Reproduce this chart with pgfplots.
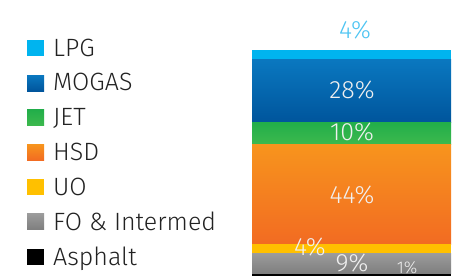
\documentclass[border=0pt]{standalone}
\usepackage{pgfplots}
\pgfplotsset{compat=1.18}
\usepackage{fontspec}
\setmainfont{Fira Sans}[UprightFont=* Light]
\definecolor{lpg}{HTML}{00B4EF}
\definecolor{mogasT}{HTML}{0A78C0}
\definecolor{mogasB}{HTML}{00559C}
\definecolor{jetT}{HTML}{22AE4A}
\definecolor{jetB}{HTML}{3DB94D}
\definecolor{hsdT}{HTML}{F7941D}
\definecolor{hsdB}{HTML}{F26B22}
\definecolor{uo}{HTML}{FFC000}
\definecolor{foT}{HTML}{9B9B9B}
\definecolor{foB}{HTML}{7E7E7E}
\definecolor{lpglab}{HTML}{4DC4F2}
\definecolor{labtext}{HTML}{F0F0F0}
\definecolor{legtext}{HTML}{222222}
\tikzset{lab/.style={font=\fontsize{25}{28}\selectfont, text=labtext}}
\begin{document}
\begin{tikzpicture}
\useasboundingbox (0,0) rectangle (454pt,278pt);
\begin{axis}[
  at={(252pt,2pt)}, anchor=south west,
  scale only axis, width=199pt, height=226pt,
  xmin=0, xmax=1, ymin=0, ymax=100,
  hide axis, clip=false,
  ybar stacked, bar width=199pt,
  reverse legend,
  legend cell align=left,
  legend style={at={(-1.1307,1.085)}, anchor=north west, draw=none, fill=none,
    inner sep=0pt, column sep=9pt, font=\fontsize{25}{28}\selectfont, text=legtext,
    nodes={inner sep=0pt, minimum height=34.7pt}},
  legend image code/.code={\path[#1,draw=none] (0pt,-8pt) rectangle (17pt,8pt);},
]
\addplot[fill=black, draw=none] coordinates {(0.5,1)};
\addplot[top color=foT, bottom color=foB, draw=none] coordinates {(0.5,9)};
\addplot[fill=uo, draw=none] coordinates {(0.5,4)};
\addplot[top color=hsdT, bottom color=hsdB, draw=none] coordinates {(0.5,44)};
\addplot[top color=jetT, bottom color=jetB, draw=none] coordinates {(0.5,10)};
\addplot[top color=mogasT, bottom color=mogasB, draw=none] coordinates {(0.5,28)};
\addplot[fill=lpg, draw=none] coordinates {(0.5,4)};
\legend{Asphalt, FO \& Intermed, UO, HSD, JET, MOGAS, LPG}
\coordinate (a) at (axis cs:0.518,108.8);
\coordinate (b) at (axis cs:0.503,82.3);
\coordinate (c) at (axis cs:0.503,63.7);
\coordinate (d) at (axis cs:0.503,35.8);
\coordinate (e) at (axis cs:0.291,12.8);
\coordinate (f) at (axis cs:0.503,5.75);
\coordinate (g) at (axis cs:0.779,3.5);
\end{axis}
\node[lab, text=lpglab] at (a) {4\%};
\node[lab] at (b) {28\%};
\node[lab] at (c) {10\%};
\node[lab] at (d) {44\%};
\node[lab] at (e) {4\%};
\node[lab] at (f) {9\%};
\node[lab, font=\fontsize{17}{19}\selectfont] at (g) {1\%};
\end{tikzpicture}
\end{document}
